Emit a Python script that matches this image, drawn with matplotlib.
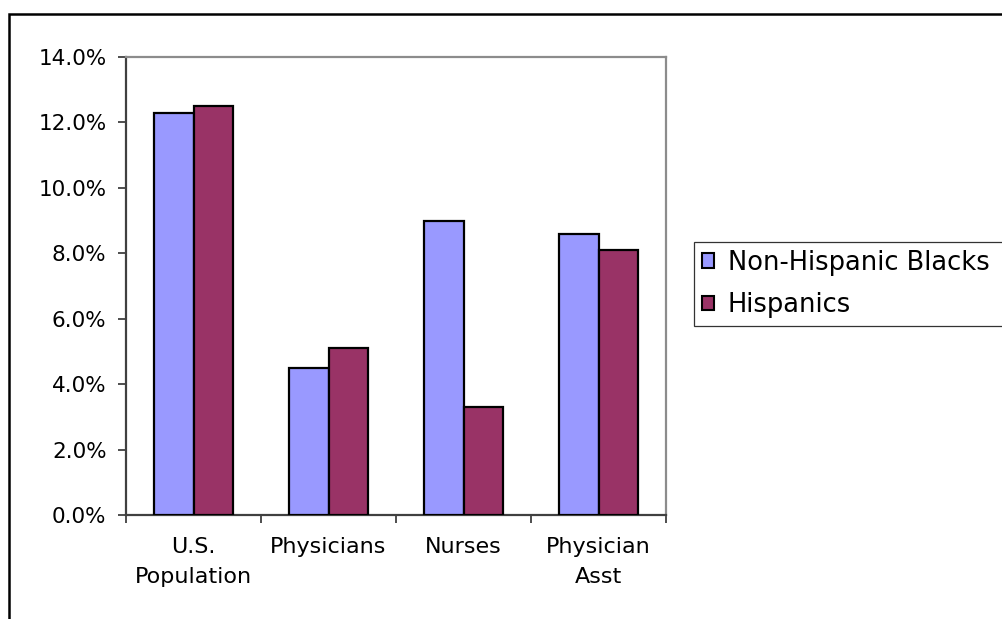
import numpy as np
import matplotlib.pyplot as plt
from matplotlib.patches import Rectangle
from matplotlib.ticker import FuncFormatter

# Share of each group (%)
categories = ["U.S.\nPopulation", "Physicians", "Nurses", "Physician\nAsst"]
series_names = ["Non-Hispanic Blacks", "Hispanics"]
blacks = [12.3, 4.5, 9.0, 8.6]
hispanics = [12.5, 5.1, 3.3, 8.1]
colors = ["#9999FF", "#993366"]

fig = plt.figure(figsize=(10.02, 6.19), dpi=100)
ax = fig.add_axes([126 / 1002, 1 - 515 / 619, 540 / 1002, 458 / 619])

x = np.arange(len(categories))
w = 0.295
for vals, off, col, name in [(blacks, -w / 2, colors[0], series_names[0]),
                             (hispanics, w / 2, colors[1], series_names[1])]:
    ax.bar(x + off, vals, width=w, color=col, edgecolor="black",
           linewidth=1.6, label=name, zorder=3)

ax.set_xlim(-0.5, len(categories) - 0.5)
ax.set_ylim(0, 14)
ax.set_yticks(np.arange(0, 14.1, 2))
ax.yaxis.set_major_formatter(FuncFormatter(lambda v, p: f"{v:.1f}%"))
ax.tick_params(axis="y", direction="out", length=6, width=1.3,
               color="#404040", labelsize=15.5, pad=8)

# category boundaries get the ticks, labels sit in between
ax.set_xticks(np.arange(len(categories) + 1) - 0.5)
ax.set_xticklabels([])
ax.set_xticks(x, minor=True)
ax.set_xticklabels(categories, minor=True, fontsize=16, linespacing=1.6)
ax.tick_params(axis="x", which="major", direction="out", length=6,
               width=1.3, color="#404040")
ax.tick_params(axis="x", which="minor", length=0, pad=16)

for side in ["left", "bottom"]:
    ax.spines[side].set_color("#404040")
    ax.spines[side].set_linewidth(1.6)
for side in ["top", "right"]:
    ax.spines[side].set_color("#8c8c8c")
    ax.spines[side].set_linewidth(1.6)

leg = fig.legend(loc="upper left", bbox_to_anchor=(694 / 1002, 0, 0.4, 1 - 242 / 619),
                 mode="expand", fontsize=18.5, handlelength=0.47, handleheight=0.47,
                 handletextpad=0.55, labelspacing=0.64, borderpad=0.3,
                 borderaxespad=0, fancybox=False, edgecolor="#333333",
                 framealpha=1)
leg.get_frame().set_linewidth(0.9)
for h in leg.legend_handles:
    h.set_linewidth(1.5)

# outer chart frame
fig.add_artist(Rectangle((8.5 / 1002, -0.1), 1.2, 1.1 - 14 / 619,
                         transform=fig.transFigure, fill=False,
                         edgecolor="black", linewidth=1.8, clip_on=False))

fig.savefig("out.png", dpi=100)
